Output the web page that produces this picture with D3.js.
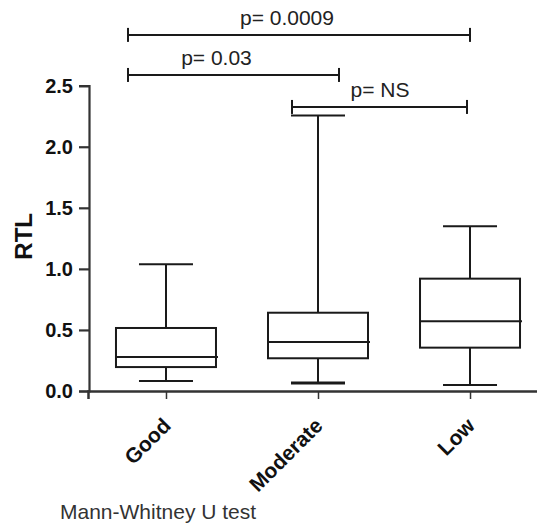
<!DOCTYPE html>
<html>
<head>
<meta charset="utf-8">
<script src="https://cdn.jsdelivr.net/npm/d3@7"></script>
<style>
  html, body { margin: 0; padding: 0; background: #fff; }
  svg { display: block; font-family: "Liberation Sans", Arial, sans-serif; }
</style>
</head>
<body>
<div id="chart"></div>
<script>
// ---- Data ----
const categories = ["Good", "Moderate", "Low"];
const whiskerLow  = [0.082, 0.066, 0.049];
const q1          = [0.196, 0.268, 0.355];
const median      = [0.278, 0.401, 0.571];
const q3          = [0.516, 0.641, 0.920];
const whiskerHigh = [1.038, 2.255, 1.349];
const yTicks      = [0, 0.5, 1.0, 1.5, 2.0, 2.5];

// significance brackets: endpoints in category units (Good=0, Moderate=1, Low=2), level in RTL units
const bracketLabels = ["p= 0.0009", "p= 0.03", "p= NS"];
const bracketStart  = [-0.25, -0.25, 0.829];
const bracketEnd    = [2.0, 1.138, 1.98];
const bracketLevel  = [2.916, 2.588, 2.326];
const bracketLabelX = [0.796, 0.332, 1.408];

const yLabel = "RTL";
const footnote = "Mann-Whitney U test";

// ---- Layout ----
const W = 537, H = 528;
const svg = d3.select("#chart").append("svg").attr("width", W).attr("height", H);

const y = d3.scaleLinear().domain([0, 2.5]).range([391, 85.7]);
const x = d3.scalePoint().domain(categories).range([88, 548]).padding(0.513);
const catX = d3.scaleLinear().domain([0, 2]).range([x(categories[0]), x(categories[2])]);

const boxW = 100, capW = 54;
const ink = "#1a1a1a";

// y axis
const yAxis = svg.append("g").attr("transform", `translate(${x.range()[0] + 1},0)`)
  .call(d3.axisLeft(y).tickValues(yTicks).tickFormat(d3.format(".1f")).tickSize(10).tickPadding(6));
yAxis.select(".domain").attr("stroke", "#333").attr("stroke-width", 2.2);
yAxis.selectAll(".tick line").attr("stroke", "#333").attr("stroke-width", 2.2);
yAxis.selectAll(".tick text").attr("font-size", 20).attr("font-weight", "bold")
  .attr("fill", "#111").attr("font-family", "'Liberation Sans', Arial, sans-serif");

// x axis
const xAxis = svg.append("g").attr("transform", `translate(0,${y(0)})`)
  .call(d3.axisBottom(x).tickSize(8).tickFormat(""));
xAxis.select(".domain").attr("stroke", "#333").attr("stroke-width", 2.5);
xAxis.selectAll(".tick line").attr("stroke", "#333").attr("stroke-width", 1.5);

// x labels
svg.append("g").selectAll("text").data(categories).join("text")
  .attr("transform", d => `translate(${x(d) + 6},${y(0) + 36}) rotate(-45)`)
  .attr("text-anchor", "end")
  .attr("font-size", 21).attr("font-weight", "bold").attr("fill", "#111")
  .text(d => d);

// boxes
const g = svg.append("g").attr("stroke", ink).attr("fill", "none").attr("stroke-width", 2);
categories.forEach((c, i) => {
  const cx = x(c);
  // whiskers
  g.append("line").attr("x1", cx).attr("x2", cx).attr("y1", y(q3[i])).attr("y2", y(whiskerHigh[i]));
  g.append("line").attr("x1", cx).attr("x2", cx).attr("y1", y(q1[i])).attr("y2", y(whiskerLow[i]));
  g.append("line").attr("x1", cx - capW / 2).attr("x2", cx + capW / 2).attr("y1", y(whiskerHigh[i])).attr("y2", y(whiskerHigh[i]));
  g.append("line").attr("x1", cx - capW / 2).attr("x2", cx + capW / 2).attr("y1", y(whiskerLow[i])).attr("y2", y(whiskerLow[i]))
    .attr("stroke-width", i === 1 ? 3 : 2);
  // box
  g.append("rect").attr("x", cx - boxW / 2).attr("width", boxW)
    .attr("y", y(q3[i])).attr("height", y(q1[i]) - y(q3[i])).attr("fill", "#fff");
  // median
  g.append("line").attr("x1", cx - boxW / 2).attr("x2", cx + boxW / 2 + 2).attr("y1", y(median[i])).attr("y2", y(median[i]));
});

// brackets
const bg = svg.append("g");
bracketLabels.forEach((lab, i) => {
  const x1 = catX(bracketStart[i]), x2 = catX(bracketEnd[i]), yy = y(bracketLevel[i]);
  bg.append("line").attr("x1", x1).attr("x2", x2).attr("y1", yy).attr("y2", yy)
    .attr("stroke", ink).attr("stroke-width", 2);
  [x1, x2].forEach(xx => bg.append("line").attr("x1", xx).attr("x2", xx)
    .attr("y1", yy - 7).attr("y2", yy + 7).attr("stroke", ink).attr("stroke-width", 2));
  bg.append("text").attr("x", catX(bracketLabelX[i])).attr("y", yy - 10)
    .attr("text-anchor", "middle").attr("font-size", 21).attr("fill", "#222").text(lab);
});

// y label
svg.append("text").attr("transform", `translate(32,${(y(0) + y(2.5)) / 2 - 2}) rotate(-90)`)
  .attr("text-anchor", "middle").attr("font-size", 24).attr("font-weight", "bold").attr("fill", "#111")
  .text(yLabel);

// footnote
svg.append("text").attr("x", 60).attr("y", 519).attr("font-size", 21).attr("fill", "#333").text(footnote);
</script>
</body>
</html>
